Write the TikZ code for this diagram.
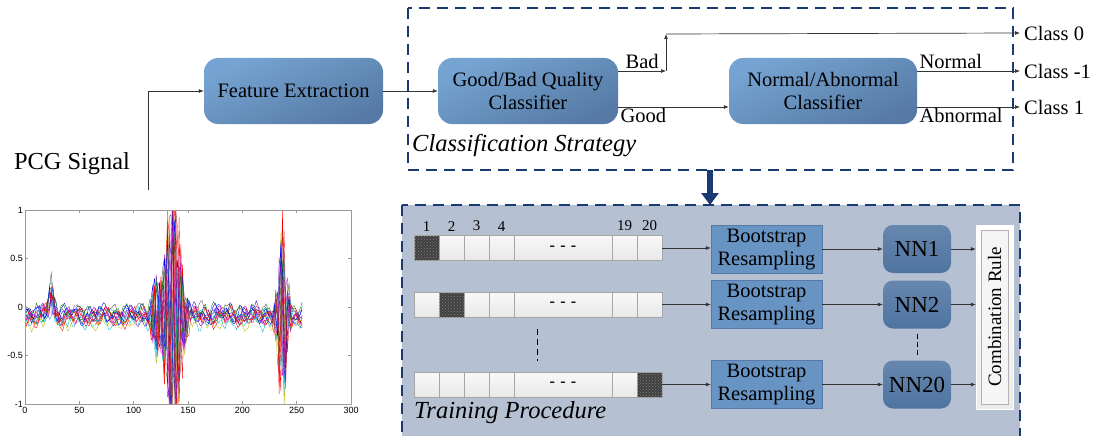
\documentclass[tikz,border=0pt]{standalone}
\usepackage{fontspec}
\usepackage{graphicx}
\setmainfont{Liberation Serif}
\newfontfamily\plotfont{Liberation Sans}
\usetikzlibrary{arrows.meta,patterns}

\definecolor{navy}{RGB}{28,58,114}
\definecolor{boxtop}{RGB}{118,164,210}
\definecolor{boxbot}{RGB}{86,122,165}
\definecolor{bootblue}{RGB}{104,148,196}
\definecolor{nnblue}{RGB}{78,116,160}
\definecolor{trainbg}{RGB}{182,192,211}
\definecolor{cellgray}{RGB}{232,232,232}
\definecolor{mgreen}{RGB}{0,128,0}
\definecolor{mcyan}{RGB}{0,190,190}
\definecolor{mmag}{RGB}{190,0,190}
\definecolor{myel}{RGB}{190,190,0}

\newcommand{\bigtxt}[2]{\scalebox{#1}{#2}}

\tikzset{
  procbox/.style={rounded corners=14pt, top color=boxtop, bottom color=boxbot, shading angle=25,
    align=center, font=\fontsize{20.5}{23}\selectfont},
  bootbox/.style={draw=boxbot, fill=bootblue, minimum width=111pt, minimum height=48pt,
    align=center, font=\fontsize{20.5}{23}\selectfont},
  nnbox/.style={rounded corners=10pt, top color=boxbot!90!white, bottom color=nnblue, minimum width=68pt,
    minimum height=48pt, inner sep=1pt, font=\fontsize{20.5}{23}\selectfont},
  cell/.style={draw=gray!70, top color=white!95!gray, bottom color=cellgray, minimum height=25pt,
    inner sep=0pt, font=\fontsize{16}{16}\selectfont\bfseries},
  darkcell/.style={draw=gray!70, fill=black!75, postaction={pattern=crosshatch dots, pattern color=gray},
    minimum height=25pt, inner sep=0pt},
  navydash/.style={draw=navy, line width=2.2pt, dash pattern=on 11pt off 7pt},
  flow/.style={draw=black!80, line width=0.7pt, -{Latex[length=5pt,width=4pt]}},
  lbl/.style={font=\fontsize{20.5}{22}\selectfont, inner sep=2pt},
  capt/.style={font=\fontsize{24.5}{26}\selectfont\itshape, anchor=west, inner sep=0pt},
  num/.style={font=\fontsize{15}{15}\selectfont, inner sep=1pt},
  ticklbl/.style={font=\plotfont\fontsize{9}{9}\selectfont}
}

\begin{document}
\begin{tikzpicture}[x=1pt,y=-1pt]
\useasboundingbox (0,0) rectangle (1100,436);

% signal plot
\node[lbl] (pcg) at (72,164) {\bigtxt{1.19}{PCG Signal}};
\coordinate (sig) at (148,190);
\begin{scope}[shift={(25pt,-307pt)}, x=1.0867pt, y=97pt]
  \begin{scope}
    \clip (0,-1) rectangle (300,1);
    \pgfmathsetseed{23}
    \foreach \c in {blue,mgreen,red,mcyan,mmag,myel,black!70,blue,mgreen,red,mcyan,mmag,blue,red} {
      \pgfmathsetmacro\fr{48+rnd*18}
      \pgfmathsetmacro\ph{mod(rnd*360+\fr*128,360)}
      \pgfmathsetmacro\pb{rnd*360}
      \pgfmathsetmacro\pc{rnd*360}
      \pgfmathsetmacro\ga{0.6+rnd*0.7}
      \pgfmathsetmacro\off{-0.16+rnd*0.12}
      \draw[\c, line width=0.35pt] plot[domain=0:255, samples=170]
        (\x, {\off + 0.05*sin(31*\x+\pb) + 0.04*sin(13*\x+\pc) + 0.03*rand
          + 0.2*exp(-min(((\x-24)/3.5)^2,60))
          + (0.12*exp(-min(((\x-24)/4)^2,60)) + \ga*1.25*exp(-min(((\x-136)/9)^2,60))
             + 0.35*exp(-min(((\x-120)/4)^2,60))
             + \ga*0.85*exp(-min(((\x-237)/5)^2,60)))*sin(\fr*(\x-128)+\ph)});
    }
  \end{scope}
  \draw[gray!80, line width=0.5pt] (0,-1) rectangle (300,1);
  \foreach \t in {0,50,...,300} {
    \draw[gray!80] (\t,-1) -- ++(0,0.03) (\t,1) -- ++(0,-0.03);
    \node[ticklbl, below] at (\t,-1) {\t};
  }
  \foreach \v in {-1,-0.5,0,0.5,1} {
    \draw[gray!80] (0,\v) -- ++(3,0) (300,\v) -- ++(-3,0);
    \node[ticklbl, left, inner sep=2pt] at (0,\v) {\v};
  }
\end{scope}

% classification strategy
\node[procbox, minimum width=179pt, minimum height=66pt] (feat) at (293.5,91) {Feature Extraction};
\node[procbox, minimum width=180pt, minimum height=66pt] (gbq) at (528,91) {Good/Bad Quality\\Classifier};
\node[procbox, minimum width=188pt, minimum height=66pt] (nac) at (823,91) {Normal/Abnormal\\Classifier};
\draw[navydash] (408,8) rectangle (1013,170);
\node[capt] (cstrat) at (412,146) {Classification Strategy};

\node[lbl, anchor=west, inner sep=4pt] (c0) at (1020,33) {Class 0};
\node[lbl, anchor=west, inner sep=4pt] (cm1) at (1020,71) {Class -1};
\node[lbl, anchor=west, inner sep=4pt] (c1) at (1020,107) {Class 1};

\draw[flow] (sig) |- (feat.west);
\draw[flow] (feat) -- (gbq);
\coordinate (badA) at (666,71);
\coordinate (badB) at (666,34);
\draw[flow] (gbq.east |- badA) -- node[lbl, above] {Bad} (badA);
\draw[flow] (badA) -- (badB);
\draw[flow] (badB) -- (c0.west);
\draw[flow] (gbq.east |- 0,107) -- node[lbl, pos=0, below right, yshift=1pt] {Good} (nac.west |- 0,107);
\draw[flow] (nac.east |- cm1) -- node[lbl, pos=0, above right] {Normal} (cm1.west);
\draw[flow] (nac.east |- c1) -- node[lbl, pos=0, below right, yshift=1pt] {Abnormal} (c1.west);

% training procedure
\draw[navydash, fill=trainbg] (402,205) rectangle (1020,445);
\draw[navy, line width=6pt, -{Triangle[width=17pt,length=12pt]}] (710,170) -- (710,205);
\node[capt] (tproc) at (414,413) {Training Procedure};

\foreach \r/\y/\k in {1/248/1, 2/304.5/2, 3/384.5/7} {
  \foreach \i/\xa/\w in {1/414/25, 2/439/25, 3/464/25, 4/489/25, 5/514/98, 6/612/25, 7/637/25} {
    \ifnum\i=\k \def\cst{darkcell}\else\def\cst{cell}\fi
    \ifnum\i=5 \def\txt{-\,\,-\,\,-}\else\def\txt{}\fi
    \node[\cst, minimum width=\w pt] (c\r-\i) at (\xa+\w/2,\y) {\txt};
  }
}
\foreach \i/\t in {1/1, 2/2, 3/3, 4/4, 6/19, 7/20}
  \node[num, above=3pt] at (c1-\i.north) {\t};
\draw[black, line width=1pt, dash pattern=on 6pt off 4pt] (537,329) -- (537,361);

\node[bootbox] (b1) at (766.5,249) {Bootstrap\\Resampling};
\node[bootbox] (b2) at (766.5,304.5) {Bootstrap\\Resampling};
\node[bootbox] (b3) at (766.5,384.5) {Bootstrap\\Resampling};
\node[nnbox] (nn1) at (917,249) {\bigtxt{1.12}{NN1}};
\node[nnbox] (nn2) at (917,304.5) {\bigtxt{1.12}{NN2}};
\node[nnbox] (nn3) at (917,384.5) {\bigtxt{1.12}{NN20}};
\node[draw=white, top color=white, bottom color=gray!15, minimum width=37pt, minimum height=184pt] (comb) at (994.5,317) {};
\node[draw=gray!60, fill=gray!8, rotate=90, minimum width=174pt, minimum height=27pt, inner sep=0pt,
  font=\fontsize{19}{20}\selectfont] (combin) at (comb) {Combination Rule};

\foreach \r in {1,2,3} {
  \draw[flow] (c\r-7.east) -- (b\r.west |- c\r-7);
  \draw[flow] (b\r) -- (nn\r);
  \draw[flow] (nn\r) -- (nn\r -| comb.west);
}
\draw[black, line width=1pt, dash pattern=on 5pt off 3pt, shorten <=5pt, shorten >=4pt] (nn2) -- (nn3);
\end{tikzpicture}
\end{document}
